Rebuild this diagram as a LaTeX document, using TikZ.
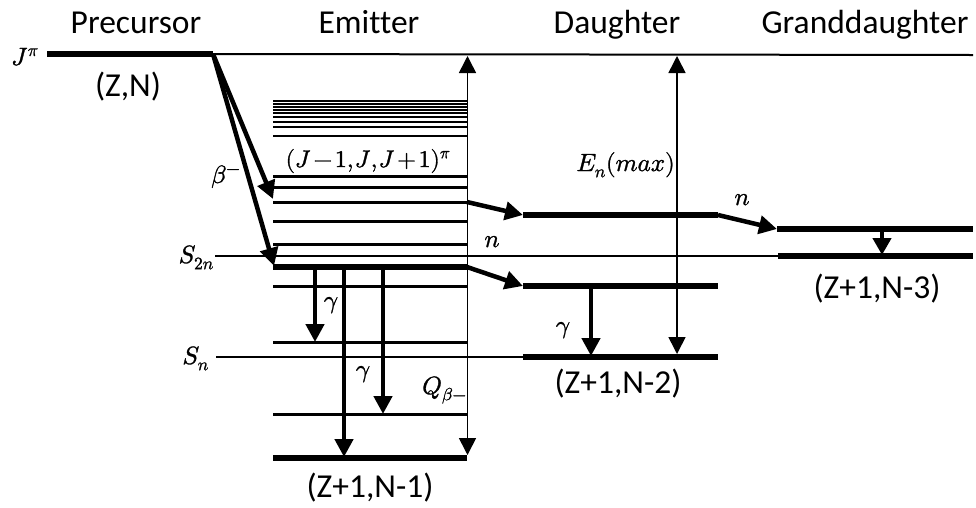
\documentclass[tikz,border=0pt]{standalone}
\usepackage{fontspec}
\usepackage{unicode-math}
\setmainfont{Carlito}[Ligatures=NoCommon]
\setmathfont{Latin Modern Math}[FakeBold=1.2]
\usetikzlibrary{arrows.meta}
\begin{document}
\begin{tikzpicture}[x=1pt,y=-1pt,
  title/.style={font=\fontsize{33.5}{40}\selectfont, anchor=base, inner sep=0pt},
  mlab/.style={font=\fontsize{25}{30}\selectfont, inner sep=0pt},
  dense/.style={line width=2.3pt},
  lvl/.style={line width=3pt},
  thk/.style={line width=5.5pt},
  thn/.style={line width=1.7pt},
  trans/.style={line width=4.5pt, -{Triangle[length=18pt,width=18pt]}},
  span/.style={line width=1.6pt, {Triangle[length=17pt,width=17pt]}-{Triangle[length=17pt,width=17pt]}}
]
\useasboundingbox (0,0) rectangle (976,507);

% titles
\node[title] (tP) at (136,33) {Precursor};
\node[title] (tE) at (369,33) {Emitter};
\node[title] (tD) at (617,33) {Daughter};
\node[title] (tG) at (865,33) {Granddaughter};

% precursor level
\coordinate (p0) at (47,54);
\coordinate (p1) at (213,54);
\coordinate (top1) at (973,55);
\draw[line width=6pt] (p0) -- (p1);
\draw[line width=2pt] (p1) -- (top1);
\node[mlab, anchor=base west] (jpi) at (11,65) {$J^\pi$};
\node[title] (zn) at (128,96) {(Z,N)};

% emitter levels
\foreach \y in {101,104,107,110,113,117,122,127,136}
  \draw[dense] (273,\y) -- (467,\y);
\foreach \y in {176,187,202,221,244,286,342,414}
  \draw[lvl] (273,\y) -- (467,\y);
\coordinate (e267l) at (273,267);
\coordinate (e267r) at (467,267);
\coordinate (e458l) at (273,458);
\coordinate (e458r) at (467,458);
\draw[thk] (e267l) -- (e267r);
\draw[thk] (e458l) -- (e458r);
\node[mlab, font=\fontsize{24}{29}\selectfont, anchor=base] (jlab) at (368,167)
  {$\medmuskip=2mu\thinmuskip=1mu (J-1,J,J+1)^\pi$};
\node[title] (z1) at (370,497) {(Z+1,N-1)};

% separation energies
\coordinate (s2l) at (215,256);
\coordinate (s2r) at (778,256);
\coordinate (snl) at (216,357);
\coordinate (snr) at (523,357);
\draw[thn] (s2l) -- (s2r);
\draw[thn] (snl) -- (snr);
\node[mlab, anchor=base east] (s2n) at (214,263) {$S_{2n}$};
\node[mlab, anchor=base east] (sn) at (209,364) {$S_n$};

% daughter levels
\coordinate (d1l) at (523,215); \coordinate (d1r) at (718,215);
\coordinate (d2l) at (523,286); \coordinate (d2r) at (718,286);
\coordinate (d3r) at (718,357);
\draw[thk] (d1l) -- (d1r);
\draw[thk] (d2l) -- (d2r);
\draw[thk] (snr) -- (d3r);
\node[title] (z2) at (618,393) {(Z+1,N-2)};

% granddaughter levels
\coordinate (g1l) at (777,229); \coordinate (g1r) at (973,229);
\coordinate (g2r) at (973,256);
\draw[thk] (g1l) -- (g1r);
\draw[thk] (s2r) -- (g2r);
\node[title] (z3) at (877,298) {(Z+1,N-3)};

% beta transitions
\coordinate (b1) at (273,199);
\coordinate (b2) at (274,266);
\draw[trans] (p1) -- (b1);
\draw[trans] (p1) -- (b2);
\node[mlab, anchor=base west] (beta) at (211,183) {$\beta^-$};

% neutron transitions
\coordinate (e202r) at (467,202);
\draw[trans] (e202r) -- (d1l);
\draw[trans] (e267r) -- (d2l);
\draw[trans] (d1r) -- (g1l);
\node[mlab, anchor=base] (n1) at (492,247) {$n$};
\node[mlab, anchor=base] (n2) at (742,205) {$n$};

% gamma transitions
\coordinate (ga1) at (315,268); \coordinate (ga1e) at (315,342);
\coordinate (ga2) at (344,268); \coordinate (ga2e) at (344,457);
\coordinate (ga3) at (383,268); \coordinate (ga3e) at (383,414);
\coordinate (gd) at (591,287);  \coordinate (gde) at (591,356);
\coordinate (gg) at (882,230);  \coordinate (gge) at (882,255);
\draw[trans] (ga1) -- (ga1e);
\draw[trans] (ga2) -- (ga2e);
\draw[trans] (ga3) -- (ga3e);
\draw[trans] (gd) -- (gde);
\draw[line width=4.5pt, -{Triangle[length=17pt,width=18pt]}] (gg) -- (gge);
\node[mlab, anchor=base] (gl1) at (331,308) {$\gamma$};
\node[mlab, anchor=base] (gl2) at (363,377) {$\gamma$};
\node[mlab, anchor=base] (gl3) at (563,333) {$\gamma$};

% Q and En(max) spans
\coordinate (qt) at (467.5,56); \coordinate (qb) at (467.5,455);
\draw[span] (qb) -- (qt);
\node[mlab, anchor=base west] (q) at (422,394) {$Q_{\beta-}$};
\coordinate (et) at (677,56); \coordinate (eb) at (677,354);
\draw[span] (eb) -- (et);
\node[mlab, anchor=base east] (en) at (675,171) {$E_n(max)$};
\end{tikzpicture}
\end{document}
